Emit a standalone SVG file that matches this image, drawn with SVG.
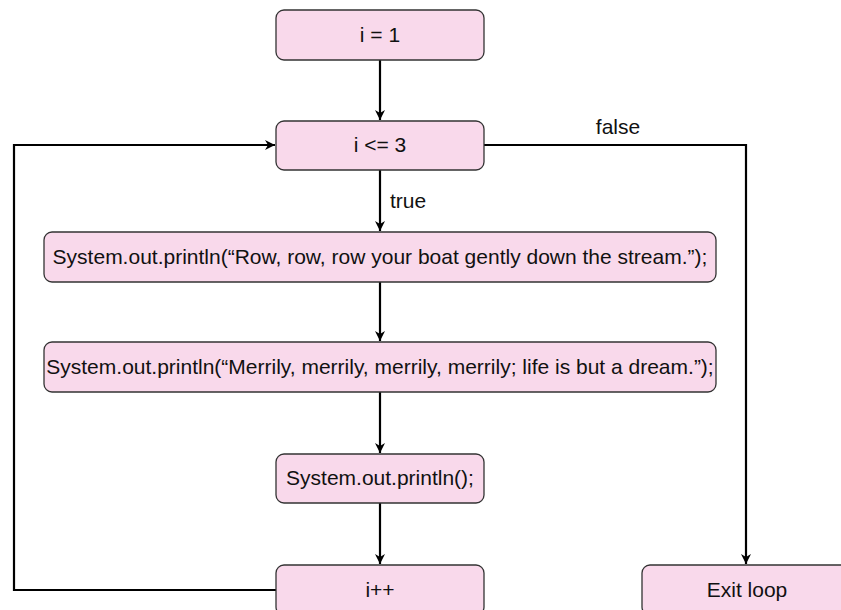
<svg xmlns="http://www.w3.org/2000/svg" width="841" height="610" viewBox="0 0 841 610">
<style>
.box{fill:#F9D9EB;stroke:#333333;stroke-width:1.3}
.lbl{font-family:"Liberation Sans",Arial,sans-serif;font-size:21px;fill:#111111;text-anchor:middle}
.conn{fill:none;stroke:#000000;stroke-width:2.2}
</style>
<defs>
<marker id="arr" viewBox="0 0 10 10" refX="10" refY="5" markerWidth="13" markerHeight="10" markerUnits="userSpaceOnUse" orient="auto">
<path d="M0,0 L10,5 L0,10 L3,5 Z" fill="#000000"/>
</marker>
</defs>
<rect width="841" height="610" fill="#ffffff"/>
<g id="connectors">
<path class="conn" d="M380,60 V120" marker-end="url(#arr)"/>
<path class="conn" d="M380,170 V231" marker-end="url(#arr)"/>
<path class="conn" d="M380,282 V341" marker-end="url(#arr)"/>
<path class="conn" d="M380,392 V453" marker-end="url(#arr)"/>
<path class="conn" d="M380,503 V564" marker-end="url(#arr)"/>
<path class="conn" d="M276,590 H14 V145 H275" marker-end="url(#arr)"/>
<path class="conn" d="M484,145 H746 V564" marker-end="url(#arr)"/>
<text class="lbl" x="408" y="208">true</text>
<text class="lbl" x="618" y="134">false</text>
</g>
<g id="n_init"><rect class="box" x="276" y="10" width="208" height="50" rx="8"/><text class="lbl" x="380" y="42">i = 1</text></g>
<g id="n_cond"><rect class="box" x="276" y="121" width="208" height="49" rx="8"/><text class="lbl" x="380" y="152">i &lt;= 3</text></g>
<g id="n_row"><rect class="box" x="44" y="232" width="672" height="50" rx="8"/><text class="lbl" x="380" y="264">System.out.println(“Row, row, row your boat gently down the stream.”);</text></g>
<g id="n_merrily"><rect class="box" x="44" y="342" width="672" height="50" rx="8"/><text class="lbl" x="380" y="374">System.out.println(“Merrily, merrily, merrily, merrily; life is but a dream.”);</text></g>
<g id="n_println"><rect class="box" x="276" y="454" width="208" height="49" rx="8"/><text class="lbl" x="380" y="485">System.out.println();</text></g>
<g id="n_inc"><rect class="box" x="276" y="565" width="208" height="50" rx="8"/><text class="lbl" x="380" y="597">i++</text></g>
<g id="n_exit"><rect class="box" x="642" y="565" width="210" height="50" rx="8"/><text class="lbl" x="747" y="597">Exit loop</text></g>
</svg>
